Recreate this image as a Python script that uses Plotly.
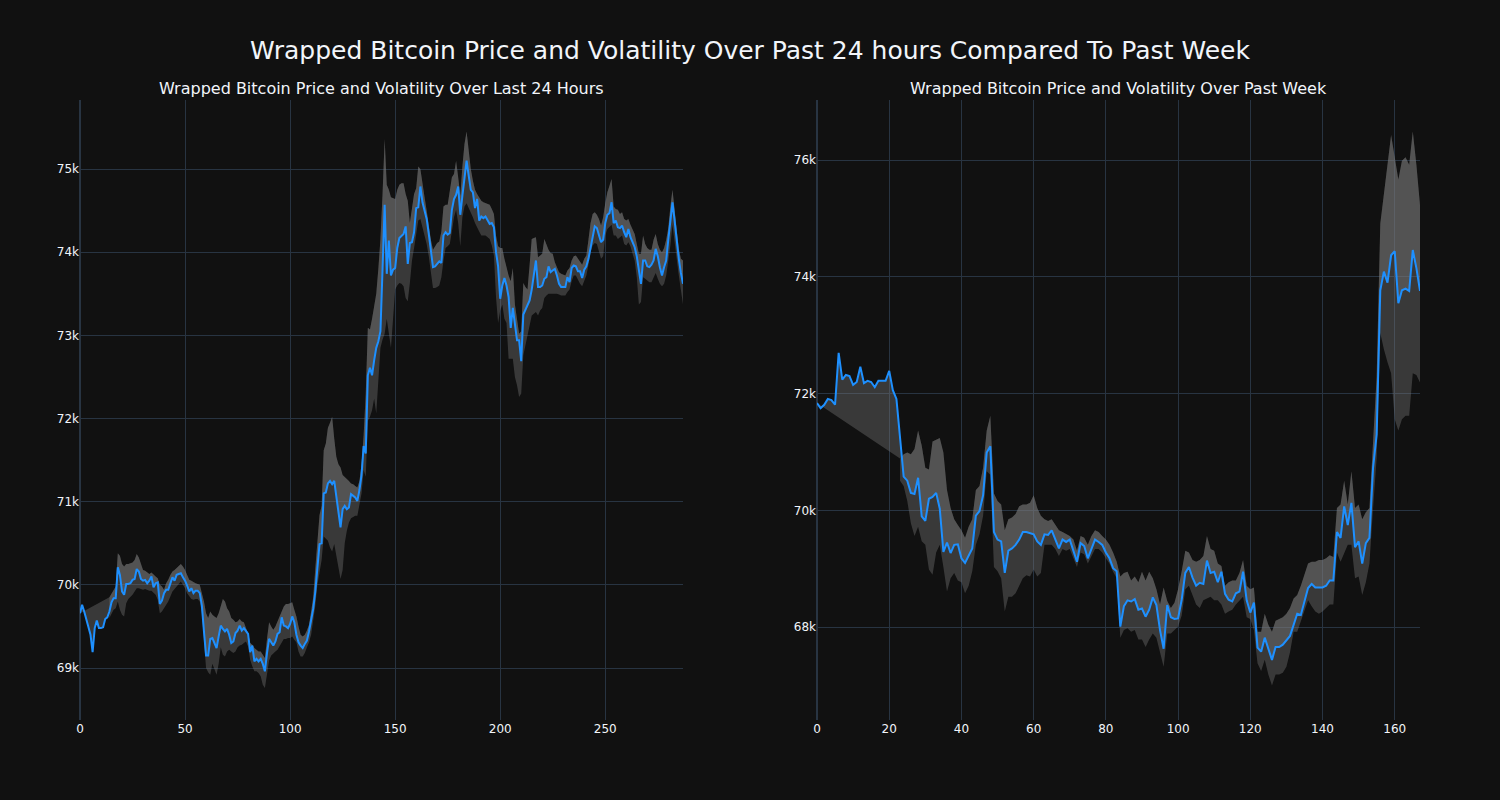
import plotly.graph_objects as go
from plotly.subplots import make_subplots

# ---------------- Left panel: last 24 hours (5-minute steps), values in $k ----------------
day_price = [
    69.66, 69.76, 69.68, 69.59, 69.51, 69.40, 69.19, 69.48, 69.57, 69.48,
    69.48, 69.49, 69.59, 69.61, 69.68, 69.79, 69.84, 69.84, 70.21, 70.12,
    69.92, 69.88, 70.01, 70.01, 70.02, 70.06, 70.07, 70.19, 70.16, 70.07,
    70.05, 70.06, 70.02, 70.05, 70.10, 69.97, 70.02, 70.03, 69.77, 69.81,
    69.90, 69.94, 69.94, 70.01, 70.09, 70.05, 70.12, 70.13, 70.14, 70.09,
    70.05, 69.99, 69.92, 69.96, 69.90, 69.93, 69.93, 69.90, 69.75, 69.44,
    69.15, 69.15, 69.35, 69.36, 69.30, 69.24, 69.38, 69.51, 69.47, 69.44,
    69.47, 69.40, 69.30, 69.32, 69.42, 69.45, 69.51, 69.45, 69.48, 69.44,
    69.41, 69.19, 69.27, 69.08, 69.11, 69.08, 69.11, 69.05, 68.96, 69.18,
    69.35, 69.31, 69.27, 69.32, 69.41, 69.43, 69.61, 69.51, 69.50, 69.48,
    69.53, 69.62, 69.55, 69.40, 69.31, 69.27, 69.24, 69.29, 69.33, 69.44,
    69.57, 69.71, 69.92, 70.18, 70.49, 70.50, 71.10, 71.11, 71.22, 71.25,
    71.21, 71.25, 71.05, 70.84, 70.69, 70.91, 70.95, 70.91, 70.93, 71.09,
    71.07, 71.05, 71.01, 71.14, 71.32, 71.67, 71.58, 72.52, 72.61, 72.52,
    72.70, 72.85, 72.93, 73.05, 73.80, 74.57, 73.74, 74.14, 73.72, 73.79,
    73.81, 74.05, 74.17, 74.20, 74.22, 74.31, 73.86, 74.11, 74.12, 74.24,
    74.53, 74.54, 74.79, 74.60, 74.50, 74.40, 74.22, 74.05, 73.82, 73.83,
    73.86, 73.89, 73.87, 74.20, 74.24, 74.21, 74.23, 74.51, 74.64, 74.69,
    74.79, 74.45, 74.68, 74.90, 75.10, 74.92, 74.75, 74.72, 74.53, 74.64,
    74.38, 74.43, 74.41, 74.43, 74.38, 74.34, 74.35, 74.30, 74.00, 73.83,
    73.44, 73.60, 73.69, 73.60, 73.46, 73.09, 73.33, 73.11, 72.94, 72.94,
    72.69, 73.25, 73.31, 73.35, 73.42, 73.55, 73.75, 73.90, 73.58, 73.58,
    73.60, 73.68, 73.70, 73.83, 73.76, 73.78, 73.80, 73.72, 73.62, 73.58,
    73.58, 73.58, 73.70, 73.64, 73.81, 73.84, 73.83, 73.77, 73.77, 73.69,
    73.79, 73.83, 73.92, 74.05, 74.22, 74.31, 74.29, 74.20, 74.12, 74.15,
    74.35, 74.45, 74.47, 74.60, 74.35, 74.38, 74.30, 74.29, 74.32, 74.24,
    74.18, 74.28, 74.18, 74.12, 74.06, 73.95, 73.75, 73.62, 73.90, 73.90,
    73.83, 73.82, 73.85, 73.90, 74.04, 73.95, 73.82, 73.72, 73.82, 73.90,
    74.15, 74.36, 74.60, 74.38, 74.10, 73.92, 73.75, 73.62,
]
day_band_start = 14
day_upper = [
    69.85, 69.90, 69.95, 69.98, 70.38, 70.35, 70.25, 70.22, 70.25, 70.25,
    70.26, 70.27, 70.30, 70.37, 70.33, 70.24, 70.18, 70.17, 70.15, 70.13,
    70.15, 70.12, 70.10, 70.08, 70.00, 69.98, 69.94, 70.02, 70.06, 70.12,
    70.16, 70.18, 70.20, 70.23, 70.25, 70.22, 70.18, 70.12, 70.06, 70.05,
    70.03, 70.02, 70.01, 70.00, 69.90, 69.80, 69.66, 69.60, 69.68, 69.64,
    69.62, 69.60, 69.66, 69.75, 69.83, 69.80, 69.72, 69.68, 69.60, 69.58,
    69.55, 69.56, 69.59, 69.56, 69.55, 69.48, 69.42, 69.30, 69.28, 69.24,
    69.22, 69.20, 69.20, 69.16, 69.12, 69.35, 69.55, 69.50, 69.46, 69.50,
    69.56, 69.62, 69.70, 69.74, 69.77, 69.77, 69.78, 69.79, 69.70, 69.62,
    69.50, 69.40, 69.38, 69.40, 69.45, 69.52, 69.68, 69.85, 70.20, 70.55,
    70.84, 70.95, 71.62, 71.70, 71.89, 71.95, 72.02, 71.76, 71.54, 71.45,
    71.41, 71.32, 71.30, 71.28, 71.25, 71.22, 71.21, 71.19, 71.17, 71.25,
    71.45, 71.80, 72.30, 73.09, 73.07, 73.20, 73.37, 73.50, 73.80, 74.16,
    74.70, 75.36, 74.81, 74.75, 74.66, 74.65, 74.64, 74.75, 74.81, 74.83,
    74.83, 74.70, 74.62, 74.35, 74.55, 74.70, 74.77, 75.03, 75.00, 74.80,
    74.66, 74.50, 74.29, 74.15, 74.03, 74.08, 74.11, 74.13, 74.25, 74.55,
    74.57, 74.57, 74.75, 74.90, 74.94, 75.10, 74.90, 74.68, 75.03, 75.30,
    75.45, 75.21, 75.00, 74.86, 74.75, 74.70, 74.66, 74.62, 74.60, 74.59,
    74.58, 74.57, 74.52, 74.46, 74.20, 74.07, 74.05, 74.05, 73.92, 73.81,
    73.72, 73.65, 73.81, 73.37, 73.20, 73.02, 73.05, 73.63, 73.58, 73.55,
    73.85, 74.16, 74.17, 74.18, 73.94, 73.96, 73.98, 74.16, 74.08, 74.03,
    73.99, 73.98, 73.88, 73.81, 73.76, 73.74, 73.73, 73.72, 73.78, 73.81,
    73.90, 73.95, 73.96, 73.92, 73.88, 73.85, 73.92, 73.96, 74.15, 74.35,
    74.46, 74.48, 74.45, 74.40, 74.32, 74.42, 74.59, 74.72, 74.80, 74.88,
    74.55, 74.52, 74.51, 74.46, 74.48, 74.40, 74.38, 74.40, 74.33, 74.28,
    74.22, 74.10, 73.98, 73.98, 74.20, 74.10, 74.05, 74.03, 74.03, 74.15,
    74.22, 74.10, 74.03, 74.00, 74.05, 74.15, 74.29, 74.55, 74.75, 74.51,
    74.25, 74.04, 73.92, 73.90,
]
day_lower = [
    69.60, 69.65, 69.70, 69.72, 69.80, 69.70, 69.64, 69.62, 69.78, 69.83,
    69.85, 69.88, 69.92, 69.96, 69.96, 69.95, 69.94, 69.95, 69.94, 69.93,
    69.93, 69.90, 69.88, 69.82, 69.66, 69.68, 69.72, 69.76, 69.80, 69.86,
    69.92, 69.95, 69.98, 70.00, 70.04, 70.00, 69.96, 69.90, 69.86, 69.83,
    69.82, 69.83, 69.83, 69.80, 69.66, 69.35, 69.00, 68.95, 68.92, 69.05,
    68.98, 68.92, 69.05, 69.25, 69.16, 69.14, 69.20, 69.22, 69.20, 69.18,
    69.20, 69.25, 69.27, 69.28, 69.30, 69.32, 69.26, 69.10, 69.02, 68.96,
    68.96, 68.94, 68.90, 68.80, 68.76, 68.95, 69.09, 69.15, 69.18, 69.20,
    69.22, 69.27, 69.30, 69.35, 69.35, 69.36, 69.36, 69.38, 69.34, 69.31,
    69.20, 69.14, 69.14, 69.18, 69.25, 69.31, 69.40, 69.55, 69.75, 70.00,
    70.14, 70.30, 70.58, 70.55, 70.53, 70.45, 70.40, 70.49, 70.35, 70.25,
    70.07, 70.18, 70.50, 70.65, 70.75, 70.80, 70.82, 70.83, 70.83, 70.95,
    71.10, 71.38, 71.30, 71.97, 72.02, 72.10, 72.24, 72.06, 72.40, 72.85,
    72.95, 73.02, 73.20, 73.00, 72.85, 73.20, 73.55, 73.60, 73.63, 73.62,
    73.59, 73.45, 73.41, 73.63, 73.90, 74.05, 74.20, 74.38, 74.40, 74.30,
    74.22, 74.10, 73.95, 73.78, 73.57, 73.57, 73.58, 73.60, 73.70, 73.90,
    74.05, 74.07, 74.10, 74.25, 74.42, 74.51, 74.35, 74.07, 74.42, 74.55,
    74.59, 74.53, 74.48, 74.42, 74.35, 74.29, 74.25, 74.20, 74.20, 74.20,
    74.18, 74.16, 74.08, 73.96, 73.46, 73.15, 73.30, 73.37, 73.20, 73.15,
    72.72, 72.72, 72.72, 72.50, 72.40, 72.26, 72.30, 72.76, 72.88, 72.98,
    73.10, 73.24, 73.26, 73.28, 73.24, 73.30, 73.33, 73.45, 73.48, 73.50,
    73.50, 73.50, 73.50, 73.50, 73.49, 73.48, 73.48, 73.48, 73.52, 73.55,
    73.65, 73.72, 73.72, 73.66, 73.62, 73.59, 73.66, 73.72, 73.85, 74.00,
    74.08, 74.11, 74.10, 74.02, 73.92, 73.95, 74.20, 74.28, 74.31, 74.33,
    74.20, 74.20, 74.16, 74.18, 74.20, 74.10, 74.08, 74.12, 74.07, 73.98,
    73.90, 73.70, 73.37, 73.40, 73.70, 73.68, 73.66, 73.64, 73.64, 73.70,
    73.75, 73.68, 73.62, 73.59, 73.62, 73.72, 73.90, 74.08, 74.33, 74.15,
    73.92, 73.72, 73.55, 73.37,
]

# ---------------- Right panel: past week (hourly steps), values in $k ----------------
week_price = [
    71.84, 71.75, 71.81, 71.91, 71.89, 71.81, 72.70, 72.24, 72.32, 72.30,
    72.15, 72.20, 72.46, 72.18, 72.22, 72.20, 72.11, 72.22, 72.22, 72.22,
    72.39, 72.06, 71.91, 71.30, 70.58, 70.51, 70.30, 70.28, 70.56, 69.90,
    69.82, 70.20, 70.23, 70.30, 70.03, 69.29, 69.45, 69.27, 69.41, 69.42,
    69.18, 69.10, 69.22, 69.35, 69.91, 69.99, 70.26, 70.99, 71.10, 69.63,
    69.50, 69.47, 68.93, 69.31, 69.35, 69.41, 69.50, 69.63, 69.63, 69.61,
    69.59, 69.47, 69.41, 69.59, 69.58, 69.66, 69.50, 69.35, 69.50, 69.46,
    69.50, 69.31, 69.12, 69.44, 69.39, 69.18, 69.35, 69.50, 69.46, 69.41,
    69.28, 69.18, 69.01, 68.96, 68.01, 68.36, 68.46, 68.44, 68.48, 68.30,
    68.32, 68.18, 68.30, 68.51, 68.38, 67.95, 67.63, 68.38, 68.17, 68.14,
    68.15, 68.47, 68.93, 69.03, 68.85, 68.71, 68.76, 68.74, 69.14, 68.93,
    68.95, 68.77, 68.95, 68.57, 68.47, 68.44, 68.58, 68.61, 68.95, 68.46,
    68.25, 68.42, 67.65, 67.58, 67.82, 67.63, 67.44, 67.66, 67.66, 67.70,
    67.77, 67.85, 68.04, 68.23, 68.21, 68.44, 68.67, 68.74, 68.68, 68.68,
    68.68, 68.71, 68.80, 68.80, 69.63, 69.53, 70.07, 69.75, 70.13, 69.37,
    69.47, 69.09, 69.44, 69.53, 70.73, 71.30, 73.77, 74.09, 73.90, 74.37,
    74.44, 73.55, 73.77, 73.80, 73.76, 74.46, 74.15, 73.76,
]
week_band_start = 23
week_upper = [
    70.89, 70.96, 70.99, 70.96, 71.05, 71.37, 71.11, 70.73, 70.70, 71.18,
    71.21, 71.24, 70.99, 70.35, 70.04, 69.85, 69.75, 69.66, 69.53, 69.72,
    69.85, 70.35, 70.42, 70.73, 71.37, 71.62, 70.29, 70.16, 70.10, 69.66,
    69.85, 69.88, 69.94, 70.07, 70.10, 70.10, 70.13, 70.26, 70.04, 69.91,
    69.85, 69.82, 69.85, 69.75, 69.66, 69.63, 69.59, 69.56, 69.50, 69.31,
    69.56, 69.53, 69.41, 69.56, 69.66, 69.63, 69.56, 69.50, 69.41, 69.28,
    69.12, 68.87, 68.93, 68.95, 68.80, 68.87, 68.77, 68.95, 68.80, 68.95,
    68.84, 68.65, 68.39, 68.68, 68.45, 68.33, 68.42, 68.65, 68.96, 69.31,
    69.28, 69.15, 69.12, 69.15, 69.22, 69.56, 69.34, 69.31, 69.09, 69.05,
    68.71, 68.77, 68.80, 68.80, 68.93, 69.15, 68.71, 68.65, 68.68, 67.92,
    67.92, 68.23, 68.04, 67.92, 68.11, 68.14, 68.17, 68.23, 68.33, 68.49,
    68.55, 68.71, 68.90, 69.09, 69.12, 69.12, 69.15, 69.15, 69.18, 69.23,
    69.20, 70.04, 70.10, 70.51, 70.10, 70.67, 70.04, 70.10, 69.85, 69.97,
    70.04, 71.30, 72.30, 74.91, 75.45, 75.99, 76.43, 76.05, 75.67, 75.99,
    76.05, 75.92, 76.49, 75.92, 75.23,
]
week_lower = [
    70.51, 70.42, 70.16, 69.78, 69.56, 69.72, 69.47, 69.41, 68.99, 68.90,
    69.28, 69.41, 69.03, 68.61, 68.84, 68.93, 68.80, 68.77, 68.58, 68.71,
    68.96, 69.41, 69.59, 69.91, 70.67, 70.61, 69.03, 68.96, 68.84, 68.27,
    68.52, 68.52, 68.58, 68.71, 68.84, 68.89, 68.87, 68.99, 68.87, 68.93,
    69.41, 69.41, 69.41, 69.34, 69.22, 69.34, 69.31, 69.34, 69.18, 69.03,
    69.28, 69.25, 69.09, 69.22, 69.34, 69.34, 69.28, 69.18, 69.09, 68.95,
    68.84, 67.82, 67.95, 67.98, 67.92, 67.95, 67.79, 67.79, 67.66, 67.79,
    67.89, 67.82, 67.57, 67.32, 67.89, 67.89, 67.95, 68.01, 68.20, 68.65,
    68.71, 68.55, 68.39, 68.33, 68.46, 68.49, 68.52, 68.46, 68.46, 68.39,
    68.23, 68.27, 68.30, 68.39, 68.46, 68.52, 68.17, 68.14, 67.95, 67.38,
    67.25, 67.44, 67.19, 67.00, 67.19, 67.19, 67.22, 67.32, 67.57, 67.92,
    67.92, 68.11, 68.27, 68.46, 68.36, 68.27, 68.23, 68.27, 68.33, 68.39,
    68.39, 69.28, 69.12, 69.28, 69.41, 69.41, 68.84, 68.87, 68.55, 68.77,
    69.09, 70.04, 70.90, 73.04, 72.76, 72.54, 72.35, 71.56, 71.37, 71.56,
    71.62, 71.62, 72.35, 72.32, 72.19,
]

main_title = "Wrapped Bitcoin Price and Volatility Over Past 24 hours Compared To Past Week"
sub_titles = ("Wrapped Bitcoin Price and Volatility Over Last 24 Hours",
              "Wrapped Bitcoin Price and Volatility Over Past Week")

LINE = "#1E90FF"
FILL = "rgba(128,128,128,0.37)"
FONT = "DejaVu Sans"


def usd(vals):
    return [v * 1000 for v in vals]


fig = make_subplots(rows=1, cols=2, subplot_titles=sub_titles, horizontal_spacing=0.1)


def add_panel(col, price, start, upper, lower):
    x_all = list(range(len(price)))
    x_band = list(range(start, start + len(upper)))
    # hidden copy of the price line: reference edge for the upper fill
    fig.add_trace(go.Scatter(x=x_all, y=usd(price), mode="lines",
                             line=dict(width=0, color=LINE), showlegend=False,
                             hoverinfo="skip"), row=1, col=col)
    fig.add_trace(go.Scatter(x=x_band, y=usd(upper), mode="lines",
                             line=dict(width=0), fill="tonexty", fillcolor=FILL,
                             showlegend=False, name="Upper"), row=1, col=col)
    fig.add_trace(go.Scatter(x=x_band, y=usd(lower), mode="lines",
                             line=dict(width=0), fill="tonexty", fillcolor=FILL,
                             showlegend=False, name="Lower"), row=1, col=col)
    fig.add_trace(go.Scatter(x=x_all, y=usd(price), mode="lines",
                             line=dict(width=2, color=LINE), showlegend=False,
                             name="Price"), row=1, col=col)


add_panel(1, day_price, day_band_start, day_upper, day_lower)
add_panel(2, week_price, week_band_start, week_upper, week_lower)

fig.update_annotations(font=dict(family=FONT, size=16))
fig.update_layout(
    template="plotly_dark",
    width=1500, height=800,
    font=dict(family=FONT),
    title=dict(text=main_title, x=0.5, xanchor="center", xref="paper",
               y=0.9375, yanchor="middle", yref="container",
               font=dict(family=FONT, size=25)),
    showlegend=False,
    margin=dict(l=80, r=80, t=100, b=80),
)
fig.update_yaxes(range=[68375, 75830], row=1, col=1)
fig.update_yaxes(range=[66410, 77030], row=1, col=2)
fig.update_xaxes(range=[0, len(day_price) - 1], row=1, col=1)
fig.update_xaxes(range=[0, len(week_price) - 1], row=1, col=2)

fig.write_html("out.html",
               config={"displayModeBar": False},
               post_script="document.body.style.margin='0';"
                           "document.body.style.background='#111111';")
